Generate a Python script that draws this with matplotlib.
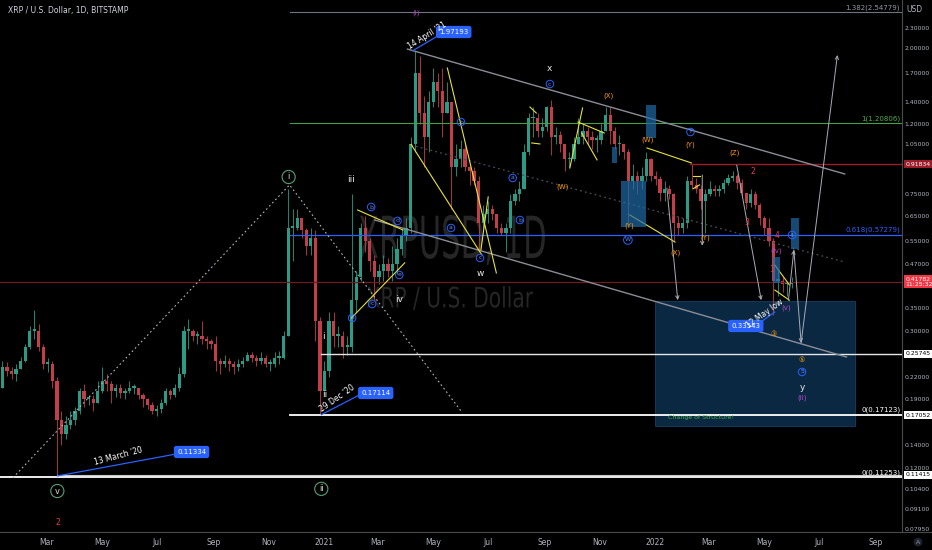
import numpy as np
import pandas as pd
import matplotlib
matplotlib.use("Agg")
import matplotlib.pyplot as plt
import matplotlib.dates as mdates
import matplotlib.transforms as mtransforms
from matplotlib.patches import Rectangle, PathPatch
from matplotlib.textpath import TextPath
from matplotlib.font_manager import FontProperties

plt.rcParams["font.family"] = ["Liberation Sans Narrow", "DejaVu Sans"]

# ---- price data (5-day candles, XRP/USD Bitstamp) ----
candle_start = "2020-01-10"
candle_step_days = 5
first_open = 0.205
closes = [
    .235, .230, .225, .232, .245, .270, .300, .300, .270, .240,
    .240, .215, .165, .150, .160, .165, .175, .200, .190, .190,
    .185, .200, .215, .210, .200, .205, .198, .200, .205, .205,
    .195, .190, .183, .175, .178, .185, .200, .195, .205, .225,
    .300, .300, .290, .290, .285, .280, .275, .245, .240, .245,
    .240, .235, .240, .245, .255, .250, .245, .250, .240, .240,
    .250, .250, .290, .600, .600, .640, .590, .530, .560, .320,
    .200, .230, .320, .290, .290, .270, .270, .370, .430, .600,
    .550, .480, .430, .450, .470, .450, .470, .520, .570, .600,
    1.05, 1.70, 1.30, 1.10, 1.40, 1.60, 1.50, 1.30, 1.40, .900,
    .950, 1.02, .900, .880, .820, .620, .660, .680, .660, .600,
    .580, .600, .720, .750, .780, 1.00, 1.25, 1.25, 1.15, 1.18,
    1.35, 1.10, 1.12, 1.05, .950, .950, 1.05, 1.10, 1.15, 1.10,
    1.08, 1.08, 1.15, 1.28, 1.15, 1.05, 1.05, 1.00, .820, .850,
    .820, .850, .950, .850, .830, .760, .780, .750, .620, .600,
    .620, .820, .800, .780, .720, .750, .780, .770, .780, .810,
    .840, .850, .810, .760, .710, .750, .700, .640, .600, .550,
    .420, .420, .410, .410, .418,
]
highs = [
    .245, .243, .235, .240, .252, .275, .310, .345, .315, .275,
    .250, .245, .220, .175, .170, .175, .180, .205, .210, .195,
    .195, .215, .235, .225, .215, .210, .210, .205, .215, .210,
    .205, .198, .192, .186, .182, .190, .205, .203, .210, .235,
    .310, .325, .305, .300, .320, .290, .285, .290, .250, .255,
    .250, .245, .248, .252, .260, .260, .255, .260, .255, .248,
    .260, .262, .300, .780, .680, .680, .640, .600, .600, .590,
    .330, .245, .340, .340, .310, .300, .290, .750, .450, .620,
    .650, .560, .500, .470, .500, .490, .530, .560, .600, .640,
    1.10, 1.97, 1.90, 1.45, 1.50, 1.75, 1.70, 1.75, 1.60, 1.40,
    1.05, 1.08, 1.05, .920, .900, .850, .700, .720, .700, .660,
    .620, .620, .750, .780, .820, 1.05, 1.30, 1.35, 1.30, 1.25,
    1.36, 1.41, 1.18, 1.15, 1.05, 1.00, 1.10, 1.25, 1.20, 1.18,
    1.15, 1.12, 1.20, 1.35, 1.35, 1.18, 1.12, 1.05, 1.02, .920,
    .880, .900, 1.00, .960, .880, .850, .820, .800, .760, .650,
    .640, .850, .918, .840, .800, .780, .820, .800, .800, .830,
    .860, .880, .860, .830, .760, .780, .770, .710, .650, .640,
    .560, .450, .430, .420, .430,
]
lows = [
    .205, .222, .218, .215, .232, .243, .265, .285, .262, .232,
    .228, .205, .1134, .140, .145, .155, .160, .172, .180, .182,
    .175, .185, .198, .200, .185, .193, .192, .190, .198, .196,
    .190, .180, .178, .172, .170, .173, .183, .190, .193, .200,
    .220, .265, .280, .275, .275, .265, .265, .230, .225, .235,
    .230, .225, .230, .235, .245, .243, .238, .240, .235, .230,
    .235, .240, .248, .290, .480, .590, .560, .500, .500, .280,
    .1711, .200, .220, .270, .270, .250, .255, .260, .340, .420,
    .510, .450, .370, .410, .420, .430, .420, .440, .500, .550,
    .580, 1.00, 1.20, .900, 1.00, 1.35, 1.35, 1.10, 1.30, .680,
    .850, .900, .880, .800, .800, .510, .600, .620, .630, .580,
    .570, .510, .580, .700, .720, .780, .980, 1.10, 1.10, 1.10,
    1.15, .980, 1.05, 1.00, .880, .900, .940, 1.05, 1.05, 1.05,
    1.02, 1.00, 1.05, 1.15, 1.05, 1.02, .980, .950, .620, .780,
    .750, .780, .820, .820, .800, .720, .720, .730, .550, .570,
    .580, .600, .780, .760, .680, .580, .740, .740, .740, .760,
    .800, .820, .780, .740, .680, .690, .680, .610, .570, .530,
    .335, .380, .390, .380, .400,
]

price_ticks = [2.3, 2.0, 1.7, 1.4, 1.2, 1.05, 0.75, 0.65, 0.55, 0.47, 0.35,
               0.30, 0.22, 0.19, 0.14, 0.12, 0.104, 0.091, 0.0795]

# ---- drawings on the chart ----
# horizontal levels: price, start date, colour, width
levels = [
    (2.54779, "2020-11-25", "#6f7380", 0.8),
    (1.20806, "2020-11-25", "#43a047", 0.8),
    (0.91834, "2022-02-08", "#9b1c2a", 1.0),
    (0.57279, "2020-11-25", "#2962ff", 0.9),
    (0.41782, "2020-01-01", "#6d1a20", 0.9),
    (0.25745, "2020-12-29", "#e6e6e6", 1.0),
    (0.17123, "2020-11-25", "#ffffff", 1.3),
    (0.11415, "2020-03-13", "#c8c8c8", 0.8),
    (0.11253, "2020-01-01", "#ffffff", 1.3),
]
fib_texts = [
    (2.54779, "1.382(2.54779)", "#9598a1"),
    (1.20806, "1(1.20806)", "#4caf50"),
    (0.57279, "0.618(0.57279)", "#2962ff"),
    (0.17123, "0(0.17123)", "#ffffff"),
    (0.11253, "0(0.11253)", "#ffffff"),
]
axis_boxes = [
    (0.91834, "0.91834", "#9b1c2a", "white"),
    (0.41782, "0.41782\n11:25:32", "#f23645", "white"),
    (0.25745, "0.25745", "#ffffff", "black"),
    (0.17052, "0.17052", "#ffffff", "black"),
    (0.11415, "0.11415", "#ffffff", "black"),
]
fib_dotted = [("2020-01-24", 0.112), ("2020-11-24", 0.80), ("2021-06-02", 0.174)]
channel_lines = [
    (("2021-04-03", 1.99), ("2022-07-29", 0.861)),
    (("2021-02-26", 0.632), ("2022-07-31", 0.252)),
]
mid_line = (("2021-04-07", 1.046), ("2022-07-29", 0.4766))
yellow_lines = [
    (("2021-02-07", 0.676), ("2021-03-29", 0.591)),
    (("2021-01-31", 0.327), ("2021-03-31", 0.474)),
    (("2021-05-17", 1.753), ("2021-07-10", 0.443)),
    (("2021-04-07", 1.05), ("2021-06-24", 0.50)),
    (("2021-06-23", 0.517), ("2021-07-01", 0.738)),
    (("2021-08-16", 1.349), ("2021-08-23", 1.296)),
    (("2021-08-18", 1.060), ("2021-08-27", 1.053)),
    (("2021-09-29", 0.896), ("2021-10-13", 1.340)),
    (("2021-10-08", 1.220), ("2021-11-06", 1.133)),
    (("2021-10-12", 1.133), ("2021-10-29", 0.946)),
    (("2021-12-23", 1.025), ("2022-02-10", 0.927)),
    (("2021-12-04", 0.654), ("2022-01-23", 0.545)),
    (("2022-02-12", 0.85), ("2022-02-19", 0.85)),
    (("2022-02-12", 0.78), ("2022-02-19", 0.80)),
    (("2022-05-13", 0.467), ("2022-05-29", 0.409)),
    (("2022-05-13", 0.395), ("2022-05-29", 0.369)),
]
boxes = [  # date0, date1, price0, price1
    ("2021-12-22", "2022-01-02", 1.096, 1.368),
    ("2021-11-24", "2021-12-22", 0.603, 0.821),
    ("2021-11-15", "2021-11-20", 0.927, 1.032),
    ("2022-05-31", "2022-06-09", 0.520, 0.641),
    ("2022-05-11", "2022-05-19", 0.414, 0.493),
]
target_box = ("2022-01-01", "2022-08-09", 0.1586, 0.367)
arrows = [
    (("2022-01-14", 0.783), ("2022-01-26", 0.369)),
    (("2022-04-01", 0.914), ("2022-04-28", 0.369)),
    (("2022-02-22", 0.855), ("2022-02-22", 0.532)),
    (("2022-05-28", 0.369), ("2022-06-03", 0.517)),
    (("2022-06-03", 0.517), ("2022-06-11", 0.277)),
    (("2022-06-11", 0.277), ("2022-07-21", 1.913)),
]
# price callouts: anchor, line end, box position, box text, date text position, date text, angle
callouts = [
    (("2021-04-09", 1.97), ("2021-05-12", 2.217), ("2021-05-24", 2.232), "1.97193",
     ("2021-04-25", 2.173), "14 April '21", 32),
    (("2020-12-29", 0.1711), ("2021-02-09", 0.1953), ("2021-02-27", 0.1979), "0.17114",
     ("2021-01-16", 0.1914), "29 Dec '20", 35),
    (("2020-03-13", 0.1134), ("2020-07-28", 0.1323), ("2020-08-08", 0.1332), "0.11334",
     ("2020-05-19", 0.1297), "13 March '20", 15),
    (("2022-05-13", 0.3409), ("2022-04-23", 0.3124), ("2022-04-11", 0.3103), "0.33543",
     ("2022-05-02", 0.3363), "12 May low", 36),
]
green_circles = [("2020-11-23", 0.8435, "i"), ("2020-12-29", 0.104, "ii"), ("2020-03-13", 0.1025, "v")]
blue_circles = [
    ("2021-02-01", 0.3274, "a"), ("2021-02-22", 0.6896, "b"), ("2021-02-23", 0.3597, "c"),
    ("2021-03-23", 0.628, "d"), ("2021-03-25", 0.437, "e"),
    ("2021-05-21", 0.599, "a"), ("2021-06-01", 1.22, "b"), ("2021-06-22", 0.4898, "c"),
    ("2021-07-28", 0.838, "a"), ("2021-08-05", 0.632, "b"), ("2021-09-07", 1.574, "c"),
    ("2022-02-09", 1.141, "Y"), ("2021-12-02", 0.5527, "W"), ("2022-06-01", 0.5714, "4"),
    ("2022-06-12", 0.2279, "5"),
]
white_labels = [
    ("2021-01-31", 0.8267, "iii"), ("2021-03-25", 0.3719, "iv"), ("2020-12-31", 0.2882, "i"),
    ("2021-01-02", 0.1953, "ii"), ("2021-09-06", 1.753, "x"), ("2021-06-22", 0.4428, "w"),
    ("2022-06-12", 0.2047, "y"),
]
orange_labels = [
    ("2021-09-21", 0.7887, "(W)"), ("2021-11-11", 1.4526, "(X)"), ("2021-12-24", 1.081, "(W)"),
    ("2022-02-09", 1.0455, "(Y)"), ("2022-03-30", 0.991, "(Z)"), ("2021-12-04", 0.607, "(Y)"),
    ("2022-01-23", 0.5065, "(X)"), ("2022-02-25", 0.5601, "(Y)"),
    ("2022-05-12", 0.294, "③"), ("2022-06-12", 0.247, "⑤"),
]
red_labels = [("2022-04-19", 0.878, "2"), ("2022-04-12", 0.622, "3"), ("2022-05-09", 0.452, "1"),
              ("2022-05-15", 0.5714, "4"), ("2020-03-14", 0.0827, "2")]
purple_labels = [("2021-04-13", 2.548, "(i)"), ("2022-05-14", 0.5133, "(iv)"),
                 ("2022-05-26", 0.3501, "(v)"), ("2022-06-12", 0.1914, "(ii)")]

GREEN = "#2b9b86"
RED = "#c23f49"


def d(s):
    return mdates.date2num(pd.Timestamp(s))


fig = plt.figure(figsize=(9.32, 5.5), dpi=100, facecolor="black")
ax = fig.add_axes([0, 18 / 550, 902 / 932, 532 / 550])
ax.set_facecolor("black")
ax.set_yscale("log")
ax.set_autoscale_on(False)
ax.set_ylim(0.07785, 2.767)
ax.set_xlim(d("2020-01-09 19:00"), d("2022-09-30 05:00"))


def watermark(text, x, y, w, h, color):
    tp = TextPath((0, 0), text, size=1, prop=FontProperties(family="DejaVu Sans"))
    bb = tp.get_extents()
    tr = (mtransforms.Affine2D().translate(-bb.x0 - bb.width / 2, -bb.y0 - bb.height / 2)
          .scale(w / bb.width, h / bb.height)
          + mtransforms.ScaledTranslation(d(x), y, ax.transData))
    ax.add_artist(PathPatch(tp, transform=tr, color=color, lw=0, zorder=0))


watermark("XRPUSD, 1D", "2021-05-22", 0.553, 186, 50, "#262626")
watermark("XRP / U.S. Dollar", "2021-05-20", 0.3745, 166, 24, "#262626")

# candles
dates = pd.date_range(candle_start, periods=len(closes), freq=f"{candle_step_days}D")
xc = mdates.date2num(dates) + candle_step_days / 2
o = np.array([first_open] + closes[:-1])
c = np.array(closes)
h = np.array(highs)
l = np.array(lows)
cols = np.where(c >= o, GREEN, RED)
ax.vlines(xc, l, h, colors=cols, lw=0.6, zorder=2)
ax.bar(xc, np.maximum(np.abs(c - o), np.minimum(o, c) * 0.012), bottom=np.minimum(o, c),
       width=candle_step_days * 0.72, color=cols, lw=0, zorder=2)

xend = d("2022-09-30")
for price, start, col, lw in levels:
    ax.plot([d(start), xend], [price, price], color=col, lw=lw, zorder=3)

blend = mtransforms.blended_transform_factory(ax.transAxes, ax.transData)
for price, txt, col in fib_texts:
    ax.text(0.998, price * 1.01, txt, transform=blend, ha="right", va="bottom",
            fontsize=5, color=col, zorder=6)

ax.plot([d(p[0]) for p in fib_dotted], [p[1] for p in fib_dotted], color="#b2b5be",
        lw=0.8, ls=(0, (1.5, 2.5)), zorder=3)
for (a, b) in channel_lines:
    ax.plot([d(a[0]), d(b[0])], [a[1], b[1]], color="#8a8d96", lw=1.0, zorder=4)
ax.plot([d(mid_line[0][0]), d(mid_line[1][0])], [mid_line[0][1], mid_line[1][1]],
        color="#4a4d55", lw=0.9, ls=(0, (1.5, 2.5)), zorder=3)
for (a, b) in yellow_lines:
    ax.plot([d(a[0]), d(b[0])], [a[1], b[1]], color="#e8e337", lw=0.8, zorder=4)

for x0, x1, p0, p1 in boxes:
    ax.add_patch(Rectangle((d(x0), p0), d(x1) - d(x0), p1 - p0, fc="#1e6aa8",
                           alpha=0.7, lw=0, zorder=4))
x0, x1, p0, p1 = target_box
ax.add_patch(Rectangle((d(x0), p0), d(x1) - d(x0), p1 - p0, fc="#1a5b93", alpha=0.45,
                       ec="#2a73b0", lw=0.6, zorder=1))

for (a, b) in arrows:
    ax.annotate("", xy=(d(b[0]), b[1]), xytext=(d(a[0]), a[1]),
                arrowprops=dict(arrowstyle="->", color="#a9acb5", lw=0.7,
                                shrinkA=0, shrinkB=0, mutation_scale=6), zorder=5)

for anchor, lend, bpos, btxt, tpos, ttxt, ang in callouts:
    ax.plot([d(anchor[0]), d(lend[0])], [anchor[1], lend[1]], color="#2962ff", lw=0.9, zorder=5)
    ax.text(d(bpos[0]), bpos[1], btxt, ha="center", va="center", fontsize=5, color="white",
            zorder=7, bbox=dict(boxstyle="round,pad=0.45,rounding_size=0.35", fc="#2962ff", ec="none"))
    ax.text(d(tpos[0]), tpos[1], ttxt, ha="center", va="center", fontsize=5.5,
            color="white", rotation=ang, zorder=7)

for x, p, t in green_circles:
    ax.text(d(x), p, t, ha="center", va="center", fontsize=6, color="#d0dcd0", zorder=7,
            bbox=dict(boxstyle="circle,pad=0.25", fc="none", ec="#5a9e6f", lw=0.8))
for x, p, t in blue_circles:
    ax.text(d(x), p, t, ha="center", va="center", fontsize=4.5, color="#5d8bff", zorder=7,
            bbox=dict(boxstyle="circle,pad=0.2", fc="none", ec="#2962ff", lw=0.7))
for x, p, t in white_labels:
    ax.text(d(x), p, t, ha="center", va="center", fontsize=6.5, color="#e8e8e8", zorder=7)
for x, p, t in orange_labels:
    ax.text(d(x), p, t, ha="center", va="center", fontsize=5, color="#ff9800", zorder=7)
for x, p, t in red_labels:
    ax.text(d(x), p, t, ha="center", va="center", fontsize=5.5, color="#f23645", zorder=7)
for x, p, t in purple_labels:
    ax.text(d(x), p, t, ha="center", va="center", fontsize=5, color="#b04ac8", zorder=7)
ax.text(d("2022-02-21"), 0.1674, "Change of Structure!", ha="center", va="center",
        fontsize=4.5, color="#4caf50", zorder=7)

# axes styling
for side in ["top", "left"]:
    ax.spines[side].set_visible(False)
ax.spines["right"].set_color("#4a4a4a")
ax.spines["bottom"].set_color("#4a4a4a")
ax.spines["right"].set_linewidth(0.8)
ax.spines["bottom"].set_linewidth(0.8)
ax.yaxis.tick_right()
ax.yaxis.set_major_locator(matplotlib.ticker.FixedLocator(price_ticks))
ax.yaxis.set_major_formatter(matplotlib.ticker.FixedFormatter([f"{v:.5f}" for v in price_ticks]))
ax.yaxis.set_minor_locator(matplotlib.ticker.NullLocator())
ax.tick_params(axis="y", length=0, pad=2, labelsize=4.4, labelcolor="#b2b5be")
ax.xaxis.set_major_locator(mdates.MonthLocator(bymonth=[1, 3, 5, 7, 9, 11]))
ax.xaxis.set_major_formatter(matplotlib.ticker.FuncFormatter(
    lambda v, pos: mdates.num2date(v).strftime("%Y") if mdates.num2date(v).month == 1
    else mdates.num2date(v).strftime("%b")))
ax.tick_params(axis="x", length=0, pad=4, labelsize=5.5, labelcolor="#b2b5be")

for price, txt, fc, tc in axis_boxes:
    ax.text(1.0035, price, txt, transform=blend, ha="left", va="center", fontsize=4.4,
            color=tc, zorder=8, clip_on=False, linespacing=1.05,
            bbox=dict(boxstyle="square,pad=0.22", fc=fc, ec="none"))

fig.add_artist(plt.Line2D([902 / 932, 1], [18 / 550, 18 / 550], color="#4a4a4a", lw=0.8))
fig.text(8 / 932, 1 - 10 / 550, "XRP / U.S. Dollar, 1D, BITSTAMP", ha="left", va="center",
         fontsize=5.5, color="#d1d4dc")
fig.text(906 / 932, 1 - 10 / 550, "USD", ha="left", va="center", fontsize=5.5, color="#b2b5be")
fig.text(918 / 932, 1 - 542 / 550, "A", ha="center", va="center", fontsize=4.5, color="#9598a1",
         bbox=dict(boxstyle="circle,pad=0.3", fc="#1e222d", ec="none"))

fig.savefig("out.png", dpi=100, facecolor="black")
